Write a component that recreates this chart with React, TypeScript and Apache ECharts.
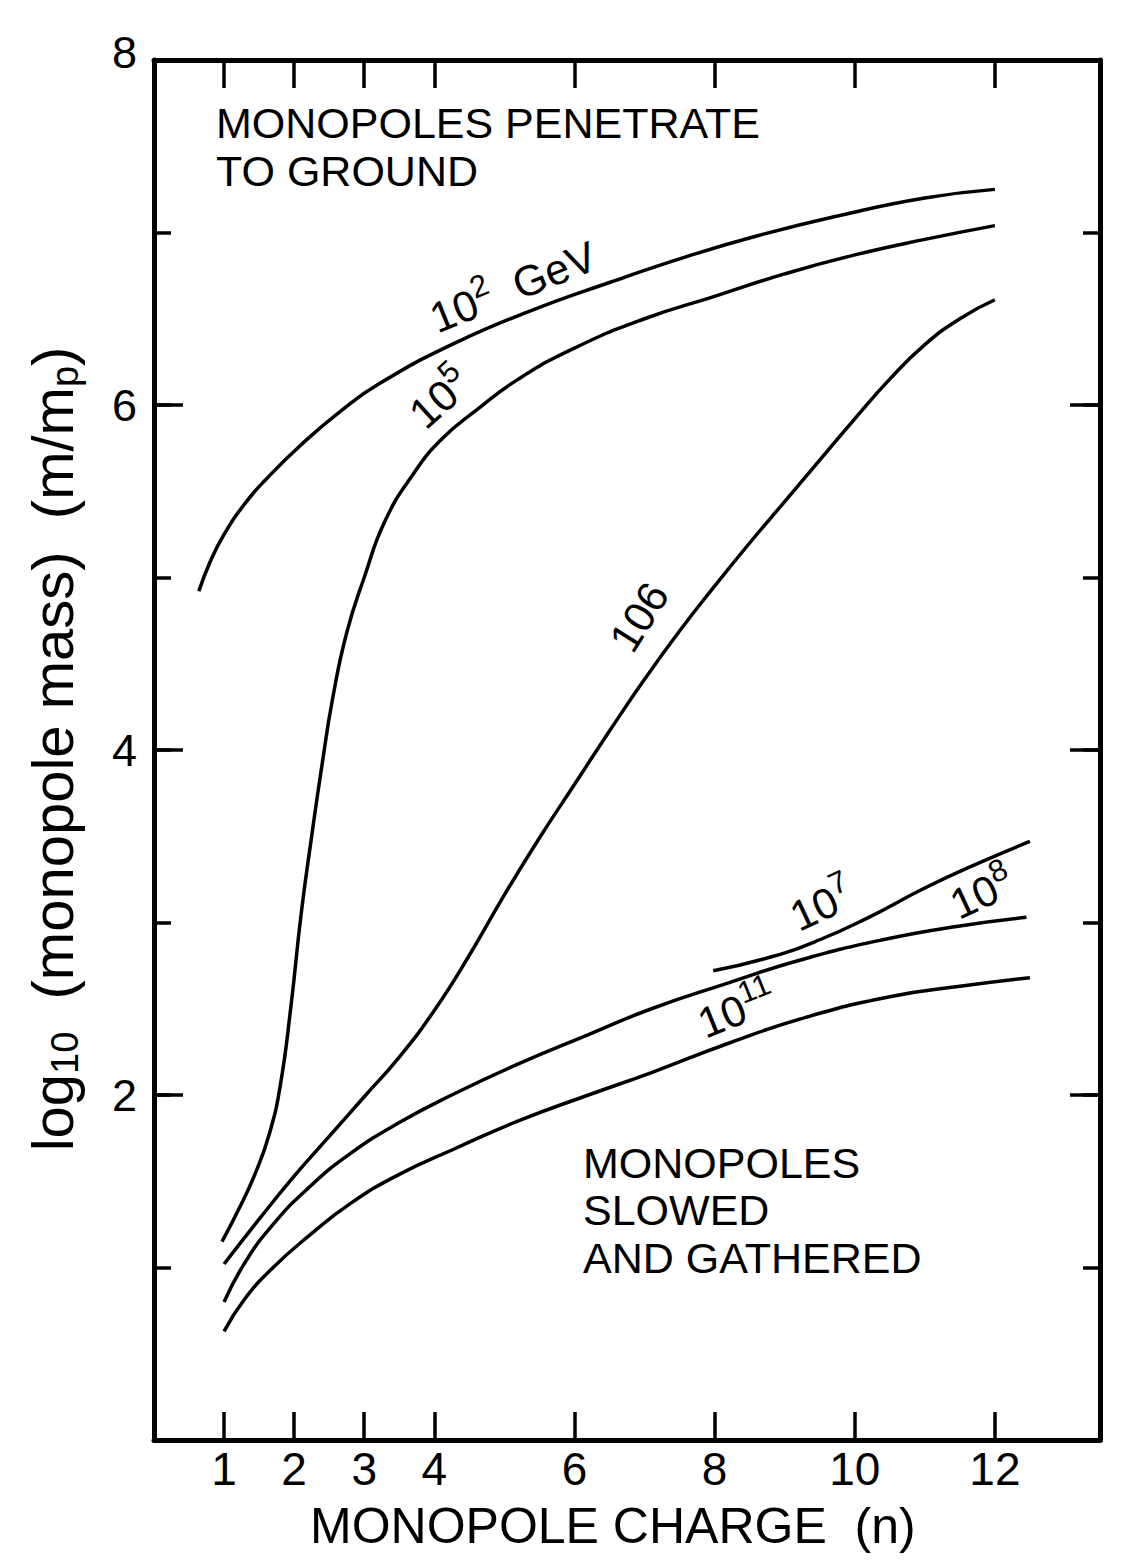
import React, { useEffect, useRef } from "react";
import * as echarts from "echarts";

const FONT = '"Liberation Sans", Arial, Helvetica, sans-serif';

// x tick values (monopole charge n)
const xTicks = [1, 2, 3, 4, 6, 8, 10, 12];
const yMajorTicks = [2, 4, 6, 8];

// 10^2 GeV
const charge102 = [0.64, 0.8, 1.0, 1.3, 1.6, 2.1, 2.65, 3.2, 4.3, 5.4, 6.5, 7.6, 8.6, 9.8, 11.0, 12.0];
const mass102 = [4.92, 5.09, 5.25, 5.43, 5.57, 5.77, 5.96, 6.12, 6.36, 6.55, 6.71, 6.86, 6.98, 7.1, 7.2, 7.25];
// 10^5
const charge105 = [0.97, 1.2, 1.45, 1.65, 1.8, 1.95, 2.1, 2.25, 2.4, 2.55, 2.75, 3.0, 3.3, 3.7, 4.1, 4.6, 5.2, 6.0, 7.0, 8.0, 9.0, 10.0, 11.0, 12.0];
const mass105 = [1.15, 1.33, 1.55, 1.78, 2.05, 2.5, 3.05, 3.5, 3.92, 4.3, 4.68, 5.0, 5.33, 5.6, 5.8, 5.97, 6.15, 6.33, 6.5, 6.63, 6.76, 6.87, 6.96, 7.04];
// 10^6
const charge106 = [1.0, 1.5, 2.0, 2.5, 3.0, 3.5, 4.0, 4.5, 5.0, 5.5, 6.0, 6.5, 7.0, 7.5, 8.0, 8.5, 9.0, 9.5, 10.0, 10.5, 11.0, 11.5, 12.0];
const mass106 = [1.02, 1.28, 1.53, 1.76, 1.99, 2.22, 2.49, 2.81, 3.16, 3.49, 3.8, 4.11, 4.41, 4.69, 4.95, 5.2, 5.44, 5.68, 5.92, 6.15, 6.35, 6.5, 6.61];
// 10^7
const charge107 = [7.98, 8.8, 9.5, 10.2, 11.0, 11.8, 12.5];
const mass107 = [2.72, 2.8, 2.9, 3.03, 3.2, 3.35, 3.47];
// 10^8
const charge108 = [1.0, 1.3, 1.7, 2.2, 2.8, 3.5, 4.3, 5.2, 6.2, 7.1, 8.2, 9.2, 10.4, 11.5, 12.45];
const mass108 = [0.8, 1.03, 1.25, 1.46, 1.66, 1.84, 2.01, 2.18, 2.35, 2.5, 2.65, 2.78, 2.9, 2.98, 3.03];
// 10^11
const charge1011 = [1.0, 1.3, 1.7, 2.2, 2.8, 3.5, 4.3, 5.2, 6.2, 7.1, 8.2, 9.3, 10.5, 11.5, 12.5];
const mass1011 = [0.63, 0.82, 1.0, 1.18, 1.37, 1.54, 1.69, 1.85, 2.0, 2.13, 2.3, 2.45, 2.57, 2.63, 2.68];

const curves = [
  { name: "1e2", xs: charge102, ys: mass102 },
  { name: "1e5", xs: charge105, ys: mass105 },
  { name: "1e6", xs: charge106, ys: mass106 },
  { name: "1e7", xs: charge107, ys: mass107 },
  { name: "1e8", xs: charge108, ys: mass108 },
  { name: "1e11", xs: charge1011, ys: mass1011 },
];

const deg = (d: number) => (d * Math.PI) / 180;

const supRich = {
  b: { fontSize: 43, lineHeight: 58, fontFamily: FONT, fill: "#000" },
  s: { fontSize: 31, lineHeight: 28, verticalAlign: "top", fontFamily: FONT, fill: "#000" },
};

function curveLabel(text: string, x: number, y: number, rotDeg: number) {
  return {
    type: "text",
    x,
    y,
    rotation: deg(rotDeg),
    silent: true,
    style: {
      text,
      rich: supRich,
      align: "center",
      verticalAlign: "middle",
      fill: "#000",
    },
  };
}

export default function App() {
  const ref = useRef<HTMLDivElement>(null);

  useEffect(() => {
    if (!ref.current) return;
    const chart = echarts.init(ref.current, undefined, { renderer: "svg" });

    const axisLine = { show: true, onZero: false, lineStyle: { color: "#000", width: 5 } };
    const tickStyle = { color: "#000", width: 3.5 };

    const option: any = {
      animation: false,
      backgroundColor: "#fff",
      grid: { left: 154, right: 36, top: 60, bottom: 121, containLabel: false },
      xAxis: [
        {
          type: "value",
          position: "bottom",
          min: 0,
          max: 13.5,
          interval: 1,
          axisLine,
          axisTick: { show: true, inside: true, length: 28, lineStyle: tickStyle, customValues: xTicks },
          axisLabel: {
            show: true,
            customValues: xTicks,
            fontSize: 46,
            color: "#000",
            fontFamily: FONT,
            margin: 6,
          },
          splitLine: { show: false },
        },
        {
          type: "value",
          position: "top",
          min: 0,
          max: 13.5,
          interval: 1,
          axisLine,
          axisTick: { show: true, inside: true, length: 28, lineStyle: tickStyle, customValues: xTicks },
          axisLabel: { show: false },
          splitLine: { show: false },
        },
      ],
      yAxis: [
        {
          type: "value",
          position: "left",
          min: 0,
          max: 8,
          interval: 2,
          axisLine,
          axisTick: { show: true, inside: true, length: 29, lineStyle: tickStyle },
          axisLabel: {
            show: true,
            customValues: yMajorTicks,
            fontSize: 45,
            color: "#000",
            fontFamily: FONT,
            margin: 17,
            formatter: (v: number) => (v === 8 ? "{t|8}" : String(v)),
            rich: { t: { fontSize: 45, fontFamily: FONT, color: "#000", padding: [0, 0, 16, 0] } },
          },
          splitLine: { show: false },
        },
        {
          type: "value",
          position: "left",
          min: 0,
          max: 8,
          interval: 1,
          axisLine: { show: false, onZero: false },
          axisTick: { show: true, inside: true, length: 17, lineStyle: tickStyle },
          axisLabel: { show: false },
          splitLine: { show: false },
        },
        {
          type: "value",
          position: "right",
          min: 0,
          max: 8,
          interval: 2,
          axisLine,
          axisTick: { show: true, inside: true, length: 30, lineStyle: tickStyle },
          axisLabel: { show: false },
          splitLine: { show: false },
        },
        {
          type: "value",
          position: "right",
          min: 0,
          max: 8,
          interval: 1,
          axisLine: { show: false, onZero: false },
          axisTick: { show: true, inside: true, length: 17, lineStyle: tickStyle },
          axisLabel: { show: false },
          splitLine: { show: false },
        },
      ],
      series: curves.map((c) => ({
        type: "line",
        name: c.name,
        xAxisIndex: 0,
        yAxisIndex: 0,
        data: c.xs.map((x, i) => [x, c.ys[i]]),
        showSymbol: false,
        symbol: "none",
        smooth: 0.5,
        lineStyle: { color: "#000", width: 3.5 },
        silent: true,
      })),
      graphic: [
        {
          type: "text",
          x: 216,
          y: 99,
          silent: true,
          style: {
            text: "MONOPOLES PENETRATE\nTO GROUND",
            fontSize: 43,
            lineHeight: 48,
            fontFamily: FONT,
            fill: "#000",
            align: "left",
            verticalAlign: "top",
          },
        },
        {
          type: "text",
          x: 583,
          y: 1139,
          silent: true,
          style: {
            text: "MONOPOLES\nSLOWED\nAND GATHERED",
            fontSize: 43,
            lineHeight: 47.5,
            fontFamily: FONT,
            fill: "#000",
            align: "left",
            verticalAlign: "top",
          },
        },
        {
          type: "text",
          x: 310,
          y: 1501,
          silent: true,
          style: {
            text: "MONOPOLE CHARGE  (n)",
            fontSize: 50,
            lineHeight: 50,
            fontFamily: FONT,
            fill: "#000",
            align: "left",
            verticalAlign: "top",
          },
        },
        {
          type: "text",
          x: 52,
          y: 749,
          rotation: Math.PI / 2,
          silent: true,
          style: {
            text: "{b|log}{s|10}{b|  (monopole mass)  (m/m}{s|p}{b|)}",
            align: "center",
            verticalAlign: "middle",
            fill: "#000",
            rich: {
              b: { fontSize: 58, lineHeight: 64, fontFamily: FONT, fill: "#000" },
              s: { fontSize: 38, lineHeight: 36, verticalAlign: "bottom", fontFamily: FONT, fill: "#000" },
            },
          },
        },
        curveLabel("{b|10}{s|2}{b|  GeV}", 513, 287, 22),
        curveLabel("{b|10}{s|5}", 440, 398, 42),
        curveLabel("{b|106}", 639, 617, 58),
        curveLabel("{b|10}{s|7}", 822, 905, 25),
        curveLabel("{b|10}{s|8}", 982, 893, 25),
        curveLabel("{b|10}{s|11}", 737, 1010, 22),
      ],
    };

    chart.setOption(option);
    return () => chart.dispose();
  }, []);

  return (
    <div
      ref={ref}
      style={{ position: "absolute", left: 0, top: 0, width: 1136, height: 1561, background: "#fff" }}
    />
  );
}
